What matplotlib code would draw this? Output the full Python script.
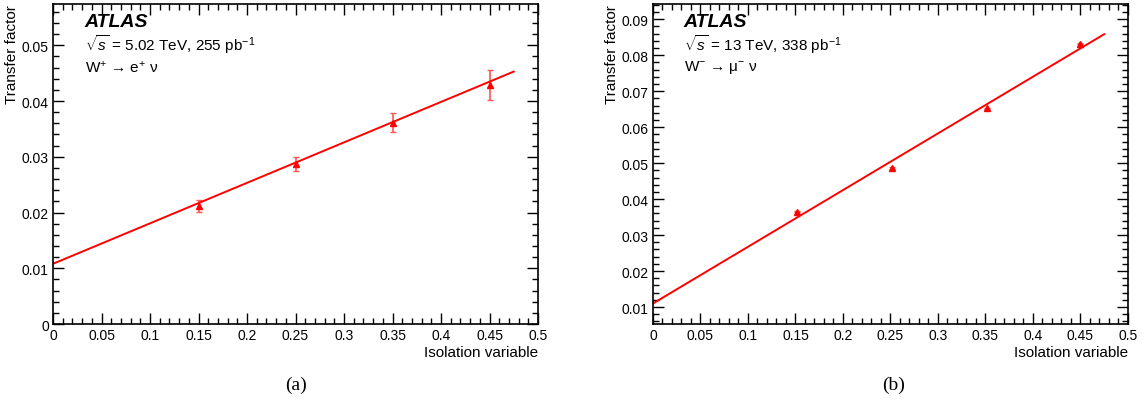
import matplotlib
matplotlib.use('Agg')
import matplotlib.pyplot as plt
from matplotlib.ticker import MultipleLocator
import numpy as np

plt.rcParams['font.family'] = ['Liberation Sans', 'DejaVu Sans']
plt.rcParams['mathtext.fontset'] = 'custom'
plt.rcParams['mathtext.rm'] = 'Liberation Sans'
plt.rcParams['mathtext.it'] = 'Liberation Sans:italic'

# panel (a): 5.02 TeV, W+ -> e+ nu
iso_a = [0.15, 0.25, 0.35, 0.45]
tf_a = [0.0212, 0.0287, 0.0361, 0.0428]
err_a = [0.0011, 0.0012, 0.0017, 0.0027]
fit_a = [0.0108, 0.0726]   # intercept, slope

# panel (b): 13 TeV, W- -> mu- nu
iso_b = [0.152, 0.252, 0.352, 0.45]
tf_b = [0.0365, 0.0487, 0.0652, 0.0832]
err_b = [0.0002, 0.0002, 0.0002, 0.0002]
fit_b = [0.0110, 0.1575]

fit_range = [0.0, 0.475]

fig = plt.figure(figsize=(11.45, 4.1), dpi=100)
ax_a = fig.add_axes([0.0463, 0.2073, 0.4236, 0.7805])
ax_b = fig.add_axes([0.5703, 0.2073, 0.4148, 0.7805])


def draw_panel(ax, x, y, err, fit, ylim, ymajor, energy, lumi, process, letter, xpos):
    ax.errorbar(x, y, yerr=err, fmt='none', ecolor='#ff5555', elinewidth=1.2,
                capsize=2, capthick=1.0)
    ax.plot(x, y, '^', color='red', markersize=4.8)
    xs = np.array(fit_range)
    ax.plot(xs, fit[0] + fit[1] * xs, color='red', lw=1.4)
    ax.set_xlim(0, 0.5)
    ax.set_ylim(*ylim)
    ax.xaxis.set_major_locator(MultipleLocator(0.05))
    ax.xaxis.set_minor_locator(MultipleLocator(0.01))
    ax.yaxis.set_major_locator(MultipleLocator(ymajor))
    ax.yaxis.set_minor_locator(MultipleLocator(ymajor / 5))
    ax.tick_params(which='both', direction='in', top=True, right=True,
                   labelsize=10, width=1, pad=3)
    ax.tick_params(which='major', length=8)
    ax.tick_params(which='minor', length=4)
    ax.xaxis.set_major_formatter(plt.FuncFormatter(lambda v, p: ('%g' % round(v, 3))))
    ax.yaxis.set_major_formatter(plt.FuncFormatter(lambda v, p: ('%g' % round(v, 3))))
    for s in ax.spines.values():
        s.set_linewidth(1.2)
    ax.set_xlabel('Isolation variable', fontsize=11, loc='right', labelpad=2)
    ax.set_ylabel('Transfer factor', fontsize=11, loc='top', labelpad=2)
    ax.text(0.065, 0.945, 'ATLAS', transform=ax.transAxes, fontsize=14,
            fontweight='bold', fontstyle='italic', va='center')
    ax.text(0.065, 0.875, r'$\sqrt{s}$ = %s TeV, %s pb$^{-1}$' % (energy, lumi),
            transform=ax.transAxes, fontsize=11, va='center')
    ax.text(0.065, 0.805, process, transform=ax.transAxes, fontsize=11, va='center')
    fig.text(xpos, 0.05, letter, fontsize=14, family='Liberation Serif', ha='center')


draw_panel(ax_a, iso_a, tf_a, err_a, fit_a, (0, 0.0574), 0.01, '5.02', '255',
           'W$^{+}$ → e$^{+}$ ν', '(a)', 0.2585)
draw_panel(ax_b, iso_b, tf_b, err_b, fit_b, (0.0053, 0.0942), 0.01, '13', '338',
           'W$^{-}$ → μ$^{-}$ ν', '(b)', 0.78)

fig.savefig('out.png', dpi=100)
